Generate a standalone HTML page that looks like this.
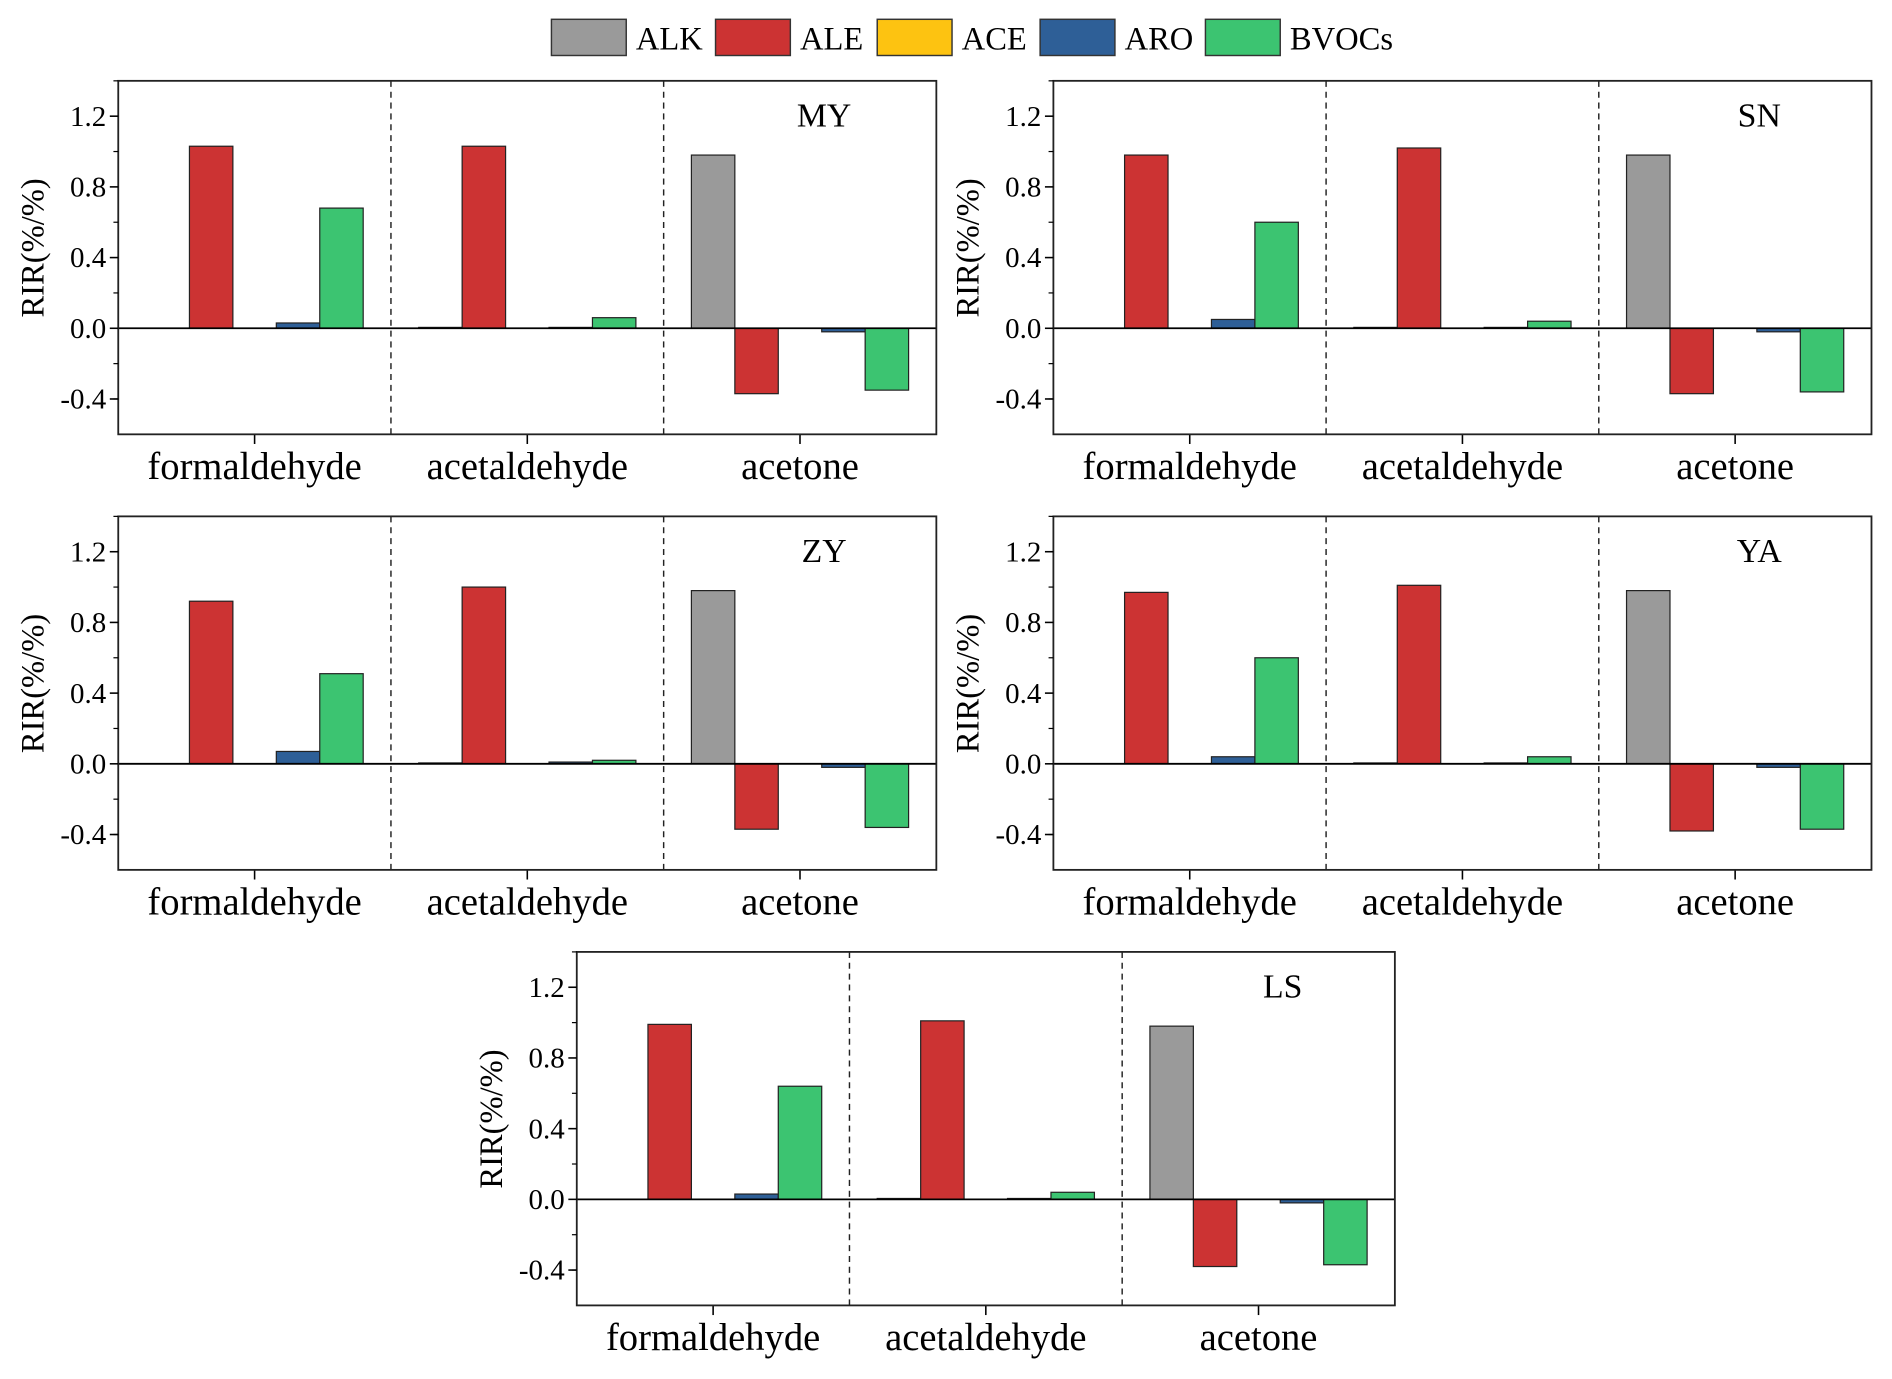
<!DOCTYPE html>
<html><head><meta charset="utf-8"><style>
html,body{margin:0;padding:0;background:#fff;}
svg{display:block;font-family:"Liberation Serif",serif;}
</style></head><body>
<svg id="chart" width="1892" height="1379" viewBox="0 0 1568 1143" preserveAspectRatio="none" xmlns="http://www.w3.org/2000/svg">
<g id="legend"></g>
<g id="panels"></g>
</svg>
<script>
const seriesNames = ["ALK","ALE","ACE","ARO","BVOCs"];
const categories = ["formaldehyde","acetaldehyde","acetone"];
const stations = ["MY","SN","ZY","YA","LS"];
const yTicks = [-0.4,0.0,0.4,0.8,1.2];
const yTickLabels = ["-0.4","0.0","0.4","0.8","1.2"];
// values[station][category] = [ALK, ALE, ACE, ARO, BVOCs]
const valuesMY = [[0,1.03,0,0.03,0.68],[0.005,1.03,0,0.005,0.06],[0.98,-0.37,0,-0.02,-0.35]];
const valuesSN = [[0,0.98,0,0.05,0.60],[0.005,1.02,0,0.005,0.04],[0.98,-0.37,0,-0.02,-0.36]];
const valuesZY = [[0,0.92,0,0.07,0.51],[0.005,1.00,0,0.01,0.02],[0.98,-0.37,0,-0.02,-0.36]];
const valuesYA = [[0,0.97,0,0.04,0.60],[0.005,1.01,0,0.005,0.04],[0.98,-0.38,0,-0.02,-0.37]];
const valuesLS = [[0,0.99,0,0.03,0.64],[0.005,1.01,0,0.005,0.04],[0.98,-0.38,0,-0.02,-0.37]];
const allValues = [valuesMY,valuesSN,valuesZY,valuesYA,valuesLS];

const colors = ["#9a9a9a","#cc3333","#fdc311","#2e5f97","#3cc471"];
const NS="http://www.w3.org/2000/svg";
function mk(tag,attrs,parent){const e=document.createElementNS(NS,tag);for(const k in attrs)e.setAttribute(k,attrs[k]);parent.appendChild(e);return e;}

const lg=document.getElementById('legend');
const lgX=[457,593,727,862,999];
seriesNames.forEach((n,i)=>{
  const r=mk('rect',{x:lgX[i],y:16,width:62,height:30,fill:colors[i],stroke:'#333','stroke-width':1.2},lg);
  
  
  const t=mk('text',{x:lgX[i]+70,y:41,'font-size':27,fill:'#000'},lg);
  t.textContent=n;
  
  
});

const panelPos=[[98,67],[873,67],[98,428],[873,428],[478,789]];
const PW=678, PH=293, yMin=-0.6, yMax=1.4;
const panels=document.getElementById('panels');
stations.forEach((st,si)=>{
  const [px,py]=panelPos[si];
  const g=mk('g',{},panels);
  
  
  const yS=v=>py+(yMax-v)/(yMax-yMin)*PH;
  const gw=PW/categories.length;
  const bw=36;
  categories.forEach((c,ci)=>{
    const vals=allValues[si][ci];
    vals.forEach((v,k)=>{
      const x=px+ci*gw+(gw-bw*seriesNames.length)/2+k*bw;
      const y0=yS(0), y1=yS(v);
      const r=mk('rect',{x:x,y:Math.min(y0,y1),width:bw,height:Math.abs(y1-y0),fill:colors[k],stroke:'#222','stroke-width':1},g);
      
      
    });
    const cx=px+ci*gw+gw/2;
    mk('line',{x1:cx,x2:cx,y1:py+PH,y2:py+PH+8,stroke:'#000','stroke-width':1.3},g);
    const t=mk('text',{x:cx,y:py+PH+37,'font-size':32,'text-anchor':'middle'},g);
    t.textContent=c;
    
    
    if(ci>0){
      const dx=px+ci*gw;
      const d=mk('line',{x1:dx,x2:dx,y1:py,y2:py+PH,stroke:'#222','stroke-width':1.2,'stroke-dasharray':'5,4'},g);
      
      
    }
  });
  mk('line',{x1:px,x2:px+PW,y1:yS(0),y2:yS(0),stroke:'#000','stroke-width':1.5},g);
  const f=mk('rect',{x:px,y:py,width:PW,height:PH,fill:'none',stroke:'#222','stroke-width':1.5},g);
  
  
  yTicks.forEach((v,i)=>{
    const y=yS(v);
    mk('line',{x1:px-7,x2:px,y1:y,y2:y,stroke:'#000','stroke-width':1.3},g);
    mk('line',{x1:px-4,x2:px,y1:yS(v+0.2),y2:yS(v+0.2),stroke:'#000','stroke-width':1},g);
    const t=mk('text',{x:px-10,y:y+8,'font-size':24,'text-anchor':'end'},g);
    t.textContent=yTickLabels[i];
    
    
  });
  mk('line',{x1:px-4,x2:px,y1:yS(-0.6+0.2),y2:yS(-0.6+0.2),stroke:'#000','stroke-width':1},g);
  const yt=mk('text',{x:0,y:0,'font-size':27,'text-anchor':'middle',transform:`translate(${px-62},${py+PH/2-8}) rotate(-90)`},g);
  yt.textContent='RIR(%/%)';
  
  
  const sl=mk('text',{x:px+585,y:py+38,'font-size':28,'text-anchor':'middle'},g);
  sl.textContent=st;
  
  
});
</script>
</body></html>
